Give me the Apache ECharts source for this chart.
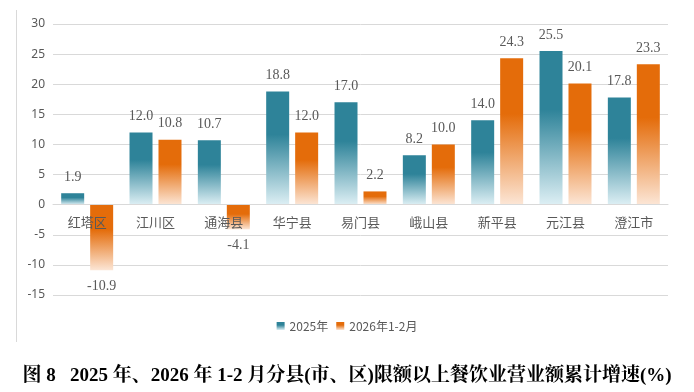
<!DOCTYPE html>
<html>
<head>
<meta charset="utf-8">
<script src="https://cdn.jsdelivr.net/npm/echarts@6/dist/echarts.min.js"></script>
<style>
html,body{margin:0;padding:0;background:#fff;}
#main{width:694px;height:392px;}
</style>
</head>
<body>
<div id="main"></div>
<script>
const categories = ['红塔区','江川区','通海县','华宁县','易门县','峨山县','新平县','元江县','澄江市'];
const seriesNames = ['2025年','2026年1-2月'];
const values2025 = [1.9, 12.0, 10.7, 18.8, 17.0, 8.2, 14.0, 25.5, 17.8];
const values2026 = [-10.9, 10.8, -4.1, 12.0, 2.2, 10.0, 24.3, 20.1, 23.3];
const yTicks = {min: -15, max: 30, interval: 5};
const titleText = '图 8   2025 年、2026 年 1-2 月分县(市、区)限额以上餐饮业营业额累计增速(%)';

const blue = '#2E8399';
const orange = '#E46C0A';
function grad(c, light) {
  return new echarts.graphic.LinearGradient(0, 0, 0, 1, [
    {offset: 0, color: c},
    {offset: 0.38, color: c},
    {offset: 1, color: light}
  ]);
}
const labelStyle = {
  show: true,
  color: '#595959',
  fontSize: 14,
  fontFamily: 'Liberation Serif, serif',
  distance: 9,
  formatter: p => p.value.toFixed(1)
};

const gridTop = 24, gridBottom = 97, H = 392;
const plotH = H - gridTop - gridBottom;
// shift the category axis up to the zero line
const zeroOffset = -plotH * (0 - yTicks.min) / (yTicks.max - yTicks.min);

const chart = echarts.init(document.getElementById('main'), null, {renderer: 'canvas'});
chart.setOption({
  animation: false,
  backgroundColor: '#fff',
  title: {
    text: titleText,
    left: 'center',
    top: 362,
    textStyle: {
      fontSize: 19,
      fontWeight: 'bold',
      color: '#000',
      fontFamily: 'Liberation Serif, Noto Serif CJK SC, Noto Sans CJK SC'
    }
  },
  legend: {
    data: seriesNames,
    top: 315,
    left: 'center',
    icon: 'rect',
    itemWidth: 8,
    itemHeight: 8,
    itemGap: 8,
    textStyle: {color: '#595959', fontSize: 12, fontFamily: 'Noto Sans CJK SC'}
  },
  graphic: [{
    type: 'line',
    shape: {x1: 16.5, y1: 10, x2: 16.5, y2: 342},
    style: {stroke: '#D9D9D9', lineWidth: 1}
  }],
  grid: {left: 53, right: 26, top: gridTop, bottom: gridBottom},
  xAxis: {
    type: 'category',
    data: categories,
    z: 10,
    offset: zeroOffset,
    axisLine: {onZero: false, lineStyle: {color: '#D9D9D9'}},
    axisTick: {show: false},
    axisLabel: {color: '#595959', fontSize: 13, fontFamily: 'Noto Sans CJK SC', margin: 11}
  },
  yAxis: {
    type: 'value',
    min: yTicks.min,
    max: yTicks.max,
    interval: yTicks.interval,
    axisLine: {show: false},
    axisTick: {show: false},
    splitLine: {lineStyle: {color: '#D9D9D9'}},
    axisLabel: {color: '#595959', fontSize: 12, fontFamily: 'Noto Sans, sans-serif', margin: 8}
  },
  series: [
    {
      name: seriesNames[0],
      type: 'bar',
      data: values2025,
      barWidth: 23,
      barGap: '26%',
      itemStyle: {color: grad(blue, '#DDEFF4')},
      label: Object.assign({}, labelStyle, {position: 'top'})
    },
    {
      name: seriesNames[1],
      type: 'bar',
      data: values2026.map(v => ({value: v, label: {position: v < 0 ? 'bottom' : 'top'}})),
      barWidth: 23,
      itemStyle: {color: grad(orange, '#FCE6D6')},
      label: labelStyle
    }
  ]
});
</script>
</body>
</html>
